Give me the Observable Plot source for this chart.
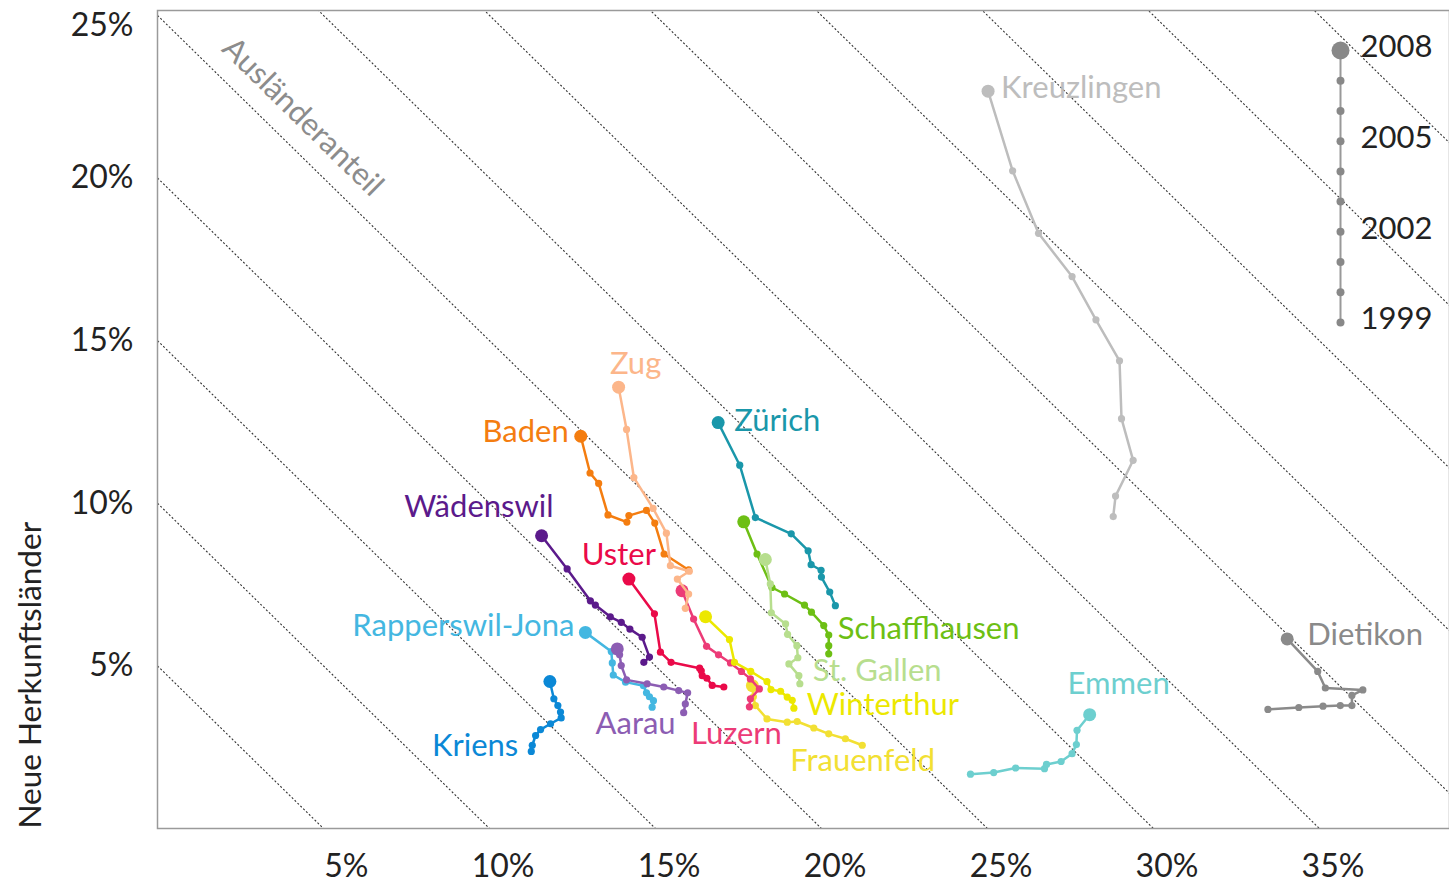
<!DOCTYPE html>
<html><head><meta charset="utf-8">
<script src="https://cdn.jsdelivr.net/npm/d3@7"></script>
<script src="https://cdn.jsdelivr.net/npm/@observablehq/plot@0.6"></script>
<style>
body{margin:0;background:#fff;}
#wrap{position:relative;width:1449px;height:885px;}
#legend{position:absolute;left:1290px;top:0;}
</style></head><body><div id="wrap"></div>
<script>
// ---- data (x = traditional origin countries %, y = new origin countries %), years 1999..2008
const years = [1999, 2000, 2001, 2002, 2003, 2004, 2005, 2006, 2007, 2008];
const cities = ["Kreuzlingen", "Dietikon", "Emmen", "Frauenfeld", "Luzern", "Winterthur", "Zürich",
  "Schaffhausen", "St. Gallen", "Uster", "Baden", "Zug", "Wädenswil", "Rapperswil-Jona", "Aarau", "Kriens"];

const kreuzlingen = [[28.79,9.59],[28.86,10.22],[29.39,11.32],[29.04,12.60],[28.98,14.38],[28.27,15.64],[27.55,16.97],[26.54,18.30],[25.76,20.22],[25.02,22.67]];
const dietikon = [[33.45,3.66],[34.38,3.72],[35.11,3.76],[35.63,3.78],[35.98,3.78],[35.98,4.09],[36.31,4.26],[35.18,4.32],[34.95,4.83],[34.03,5.83]];
const emmen = [[24.49,1.67],[25.19,1.72],[25.85,1.86],[26.72,1.84],[26.78,1.97],[27.22,2.06],[27.55,2.30],[27.68,2.58],[27.70,3.02],[28.08,3.50]];
const frauenfeld = [[21.23,2.56],[20.72,2.76],[20.22,2.91],[19.77,3.09],[19.27,3.29],[18.97,3.27],[18.36,3.37],[18.01,3.78],[17.95,4.05],[17.92,4.39]];
const luzern = [[17.83,3.74],[17.86,3.99],[18.13,4.29],[17.86,4.60],[17.59,4.83],[17.26,5.09],[16.90,5.34],[16.54,5.60],[16.15,6.44],[15.80,7.31]];
const winterthur = [[19.17,3.70],[19.12,3.94],[18.97,4.04],[18.77,4.22],[18.48,4.27],[18.36,4.52],[17.87,4.83],[17.38,5.11],[17.23,5.81],[16.51,6.51]];
const zuerich = [[20.42,6.85],[20.25,7.27],[20.00,7.73],[19.99,7.94],[19.69,8.11],[19.60,8.54],[19.09,9.06],[18.01,9.56],[17.54,11.17],[16.89,12.48]];
const schaffhausen = [[20.22,5.37],[20.22,5.62],[20.22,5.95],[20.07,6.24],[19.70,6.65],[19.49,6.87],[18.89,7.21],[18.51,7.41],[18.06,8.44],[17.66,9.43]];
const stgallen = [[19.35,4.45],[19.32,4.70],[19.02,5.06],[19.29,5.25],[19.26,5.62],[18.98,5.97],[18.92,6.29],[18.49,6.63],[18.46,7.52],[18.31,8.27]];
const uster = [[17.06,4.35],[16.71,4.40],[16.55,4.62],[16.41,4.70],[16.38,4.85],[16.33,4.93],[15.47,5.11],[15.15,5.42],[14.97,6.60],[14.20,7.67]];
const baden = [[16.00,7.95],[15.26,8.44],[14.98,9.39],[14.73,9.78],[14.20,9.62],[14.14,9.42],[13.57,9.64],[13.29,10.61],[13.03,10.93],[12.75,12.06]];
const zug = [[15.90,6.77],[16.00,7.21],[15.66,7.67],[16.02,7.91],[15.45,8.08],[15.33,9.08],[14.93,9.84],[14.35,10.79],[14.13,12.27],[13.89,13.57]];
const waedenswil = [[14.65,5.11],[14.82,5.27],[14.60,5.88],[14.23,6.13],[13.97,6.34],[13.64,6.51],[13.19,6.87],[13.04,7.00],[12.34,7.98],[11.57,9.00]];
const rapperswil = [[14.90,3.73],[14.94,3.93],[14.82,4.05],[14.73,4.17],[14.64,4.39],[14.10,4.50],[13.73,4.72],[13.70,5.09],[13.67,5.44],[12.89,6.03]];
const aarau = [[15.85,3.56],[15.90,3.83],[15.97,4.17],[15.70,4.24],[15.25,4.35],[14.75,4.45],[14.13,4.57],[13.97,5.01],[13.92,5.34],[13.85,5.52]];
const kriens = [[11.26,2.37],[11.29,2.56],[11.39,2.86],[11.54,3.04],[11.84,3.22],[12.16,3.40],[12.14,3.58],[12.06,3.78],[11.94,3.99],[11.82,4.52]];

const xTicks = [5, 10, 15, 20, 25, 30, 35];
const yTicks = [5, 10, 15, 20];
const yTopTick = [25];
const shareLevels = [5, 10, 15, 20, 25, 30, 35, 40, 45, 50, 55, 60];
const legendYears = [2008, 2005, 2002, 1999];

// ---- styles / config
const cityColors = ["#bdbdbd", "#8a8a8a", "#6dcfcf", "#f2e033", "#ec3b77", "#ece800", "#1a97aa",
  "#6dbf14", "#b7de8e", "#ea0a49", "#f47d10", "#fcb68a", "#5b1a8b", "#44b7e1", "#8c5db3", "#0b88d6"];
const labelPlace = {
  "Kreuzlingen": {at: 2008, anchor: "start", dx: 13, dy: -3},
  "Dietikon": {at: 2008, anchor: "start", dx: 20, dy: -4},
  "Emmen": {at: 2008, anchor: "middle", dx: 29, dy: -31},
  "Frauenfeld": {at: 1999, anchor: "start", dx: -72, dy: 16},
  "Luzern": {at: 1999, anchor: "middle", dx: -13, dy: 27},
  "Winterthur": {at: 1999, anchor: "start", dx: 13, dy: -3},
  "Zürich": {at: 2008, anchor: "start", dx: 16, dy: -2},
  "Schaffhausen": {at: 1999, anchor: "start", dx: 9, dy: -25},
  "St. Gallen": {at: 1999, anchor: "start", dx: 13, dy: -13},
  "Uster": {at: 2008, anchor: "middle", dx: -10, dy: -24},
  "Baden": {at: 2008, anchor: "end", dx: -12, dy: -4},
  "Zug": {at: 2008, anchor: "middle", dx: 17, dy: -23},
  "Wädenswil": {at: 2008, anchor: "end", dx: 12, dy: -29},
  "Rapperswil-Jona": {at: 2008, anchor: "end", dx: -11, dy: -6},
  "Aarau": {at: 1999, anchor: "end", dx: -8, dy: 11},
  "Kriens": {at: 1999, anchor: "end", dx: -13, dy: -5}
};
const series = {"Kreuzlingen": kreuzlingen, "Dietikon": dietikon, "Emmen": emmen, "Frauenfeld": frauenfeld,
  "Luzern": luzern, "Winterthur": winterthur, "Zürich": zuerich, "Schaffhausen": schaffhausen,
  "St. Gallen": stgallen, "Uster": uster, "Baden": baden, "Zug": zug, "Wädenswil": waedenswil,
  "Rapperswil-Jona": rapperswil, "Aarau": aarau, "Kriens": kriens};

const rows = cities.flatMap(c => series[c].map(([x, y], i) => ({city: c, year: years[i], x, y})));
const FONT = "Lato, 'DejaVu Sans', sans-serif";
const lastYear = years[years.length - 1];

const cityMarks = cities.flatMap(c => {
  const d = rows.filter(r => r.city === c);
  const p = labelPlace[c];
  return [
    Plot.line(d, {x: "x", y: "y", stroke: "city", strokeWidth: 2.5}),
    Plot.dot(d.filter(r => r.year !== lastYear), {x: "x", y: "y", fill: "city", r: 3.6}),
    Plot.dot(d.filter(r => r.year === lastYear), {x: "x", y: "y", fill: "city", r: 6.5}),
    Plot.text(d.filter(r => r.year === p.at), {x: "x", y: "y", text: "city", fill: "city",
      textAnchor: p.anchor, dx: p.dx, dy: p.dy, fontSize: 31})
  ];
});

const annotShare = 25, annotAlong = 3.77;

const chart = Plot.plot({
  width: 1449, height: 885,
  marginLeft: 157, marginRight: 0, marginTop: 10, marginBottom: 57,
  style: {fontFamily: FONT, fontSize: "30px", color: "#222", background: "transparent"},
  x: {domain: [0, 38.92], axis: null},
  y: {domain: [0, 25.15], axis: null},
  color: {domain: cities, range: cityColors},
  marks: [
    Plot.link(shareLevels, {x1: () => 0, y1: d => d, x2: d => d, y2: () => 0,
      stroke: "#333", strokeWidth: 1.1, strokeDasharray: "2,2", clip: true}),
    Plot.text(["Ausländeranteil"], {x: () => annotAlong, y: () => annotShare - annotAlong,
      rotate: 44.5, dx: 20, dy: -21, fill: "#8c8c8c", fontSize: 31}),
    Plot.frame({stroke: "#9a9a9a", strokeWidth: 1.5}),
    Plot.axisY({ticks: yTicks, label: null, tickSize: 0, tickPadding: 24, tickFormat: d => d + "%", fontSize: 32, fill: "#222"}),
    Plot.axisY({ticks: yTopTick, label: null, tickSize: 0, tickPadding: 24, tickFormat: d => d + "%", fontSize: 32, fill: "#222", dy: 10}),
    Plot.axisX({ticks: xTicks, label: null, tickSize: 0, tickPadding: 26, tickFormat: d => d + "%", fontSize: 32, fill: "#222",
      textAnchor: "end", dx: 45}),
    Plot.text(["Neue Herkunftsländer"], {frameAnchor: "bottom-left", rotate: -90, textAnchor: "start",
      dx: -117, fontSize: 31.5, fill: "#222"}),
    ...cityMarks
  ]
});
document.getElementById("wrap").appendChild(chart);

const legend = Plot.plot({
  width: 159, height: 345, margin: 0,
  style: {fontFamily: FONT, fontSize: "31px", background: "transparent", overflow: "visible"},
  x: {domain: [0, 1], range: [50, 150], axis: null},
  y: {domain: [years[0], lastYear], range: [322, 50], axis: null},
  marks: [
    Plot.ruleX([0], {y1: () => years[0], y2: () => lastYear, stroke: "#999", strokeWidth: 2}),
    Plot.dot(years.filter(y => y !== lastYear), {x: () => 0, y: d => d, r: 4, fill: "#888"}),
    Plot.dot([lastYear], {x: () => 0, y: d => d, r: 9, fill: "#888"}),
    Plot.text(legendYears, {x: () => 0, y: d => d, text: d => String(d), dx: 20, dy: -3,
      textAnchor: "start", fill: "#222"})
  ]
});
legend.id = "legend";
document.getElementById("wrap").appendChild(legend);
</script></body></html>
